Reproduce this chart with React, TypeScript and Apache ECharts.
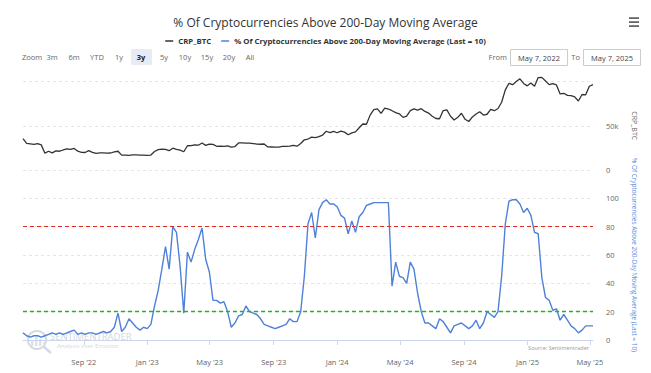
import React, { useEffect, useRef } from "react";
import * as echarts from "echarts";

const startDate = Date.UTC(2022, 4, 7);
const endDate = Date.UTC(2025, 4, 7);

// CRP_BTC weekly closes, in thousands
const btcValues = [
  35.5, 30, 29.5, 29, 29.8, 28.4, 19, 21.2, 19.3, 21.6, 21.2, 22.6, 23.8, 23.2, 24.4, 21.2, 20, 19.8, 21.8, 20,
  18.9, 19.3, 19.4, 19.1, 19.2, 20.6, 21.2, 16.8, 16.7, 16.5, 17, 17.1, 16.8, 16.8, 16.6,
  16.9, 20.9, 23, 23.7, 23.4, 21.8, 24.6, 23.2, 22.4, 20.6, 27.4, 27.5, 28.5, 28, 30.5, 27.8, 29.2, 28.9, 26.8, 26.9,
  26.8, 27.2, 25.8, 26.5, 30.6, 30.6, 30.3, 30.3, 29.9, 29.3, 29.1, 29.4, 26.1, 26, 25.9, 25.9, 26.6, 26.6, 27, 27.9,
  26.9, 29.9, 34.1, 35, 37.1, 36.6, 37.7, 39.5, 43.8, 42.3, 43.7, 42.1,
  44, 42.8, 39.8, 42, 43, 47.7, 52, 51.7, 62, 68.3, 69, 64, 69.9, 68.9, 67, 64.9, 63.5, 59.5, 60.8, 67,
  69, 67.7, 69.3, 66.2, 64.3, 60.8, 58.2, 57.9, 67.2, 68, 60.7, 56.5, 59.5, 64.1, 57.3, 54.8, 60, 63.3, 65.8, 62.1,
  63, 68.4, 67, 69.5, 76.6, 90.6, 98, 96.4, 99.9, 103, 97.8, 95.1,
  98.3, 94.6, 104.4, 104.7, 100.6, 96.5, 97.5, 96.1, 86, 86.7, 84.3, 84.1, 82.6, 78, 85.3, 85, 94.6, 96.5,
];

// % of cryptocurrencies above 200-day moving average, weekly
const pctValues = [
  5, 3, 2, 3, 3, 2, 3, 4, 5, 4,
  5, 4, 5, 6, 7, 4, 5, 4, 5, 5,
  4, 5, 6, 5, 6, 9, 19, 6, 9, 15,
  12, 9, 7, 9, 8, 11, 24, 35, 50, 66,
  50, 80, 76, 52, 19, 62, 55, 64, 71, 79,
  57, 48, 28, 28, 26, 27, 20, 9, 12, 17,
  18, 24, 20, 19, 18, 15, 11, 10, 9, 8,
  9, 10, 11, 15, 13, 13, 20, 45, 82, 90,
  72, 92, 97, 99, 96, 96, 94, 88, 86, 75,
  84, 76, 87, 90, 95, 96, 97, 97, 97, 97,
  97, 38, 55, 45, 44, 40, 55, 50, 33, 20,
  12, 12, 10, 8, 15, 13, 9, 5, 10, 11,
  12, 10, 8, 10, 14, 8, 12, 20, 18, 16,
  20, 45, 82, 98, 99, 99, 96, 90, 93, 88,
  76, 75, 44, 30, 28, 21, 22, 14, 18, 14,
  10, 8, 5, 7, 10, 10, 10,
];

const tickDates = [
  Date.UTC(2022, 8, 1), Date.UTC(2023, 0, 1), Date.UTC(2023, 4, 1), Date.UTC(2023, 8, 1),
  Date.UTC(2024, 0, 1), Date.UTC(2024, 4, 1), Date.UTC(2024, 8, 1), Date.UTC(2025, 0, 1), Date.UTC(2025, 4, 1),
];
const tickLabels = ["Sep '22", "Jan '23", "May '23", "Sep '23", "Jan '24", "May '24", "Sep '24", "Jan '25", "May '25"];

const zoomButtons = ["3m", "6m", "YTD", "1y", "3y", "5y", "10y", "15y", "20y", "All"];
const zoomX = [52, 74, 97, 119, 141, 164, 185, 207, 229, 250];
const thresholdHigh = 80;
const thresholdLow = 20;
const btcName = "CRP_BTC";
const pctName = "% Of Cryptocurrencies Above 200-Day Moving Average (Last = 10)";
const pctAxisName = "% Of Cryptocurrencies Above 200-Day Moving Average (Last = 10)";

const FONT = "'Open Sans', 'Noto Sans', sans-serif";

export default function App() {
  const ref = useRef<HTMLDivElement>(null);
  useEffect(() => {
    if (!ref.current) return;
    const chart = echarts.init(ref.current, undefined, { renderer: "svg" });
    const step = (endDate - startDate) / (btcValues.length - 1);
    const btcData = btcValues.map((v, i) => [startDate + i * step, v * 1000]);
    const pctData = pctValues.map((v, i) => [startDate + i * step, v]);
    const gridLine = { show: true, lineStyle: { color: "#e6e6e6", type: [3, 3] as any, width: 1 } };
    const labelStyle = { color: "#666", fontSize: 7.5, margin: 13, verticalAlign: "middle" as any, padding: [0, 0, 7, 0] };

    const graphics: any[] = [];
    graphics.push({ type: "text", x: 22, y: 57, style: { text: "Zoom", fill: "#666", fontSize: 7.5, fontFamily: FONT, verticalAlign: "middle" } });
    graphics.push({ type: "rect", shape: { x: 131, y: 49, width: 21, height: 16, r: 1 }, style: { fill: "#e6ebf5" } });
    zoomButtons.forEach((b, i) => {
      graphics.push({
        type: "text", x: zoomX[i], y: 57,
        style: { text: b, fill: b === "3y" ? "#222" : "#666", fontSize: 7.5, fontWeight: b === "3y" ? "bold" : "normal", fontFamily: FONT, align: "center", verticalAlign: "middle" },
      });
    });
    graphics.push({ type: "text", x: 507, y: 57, style: { text: "From", fill: "#666", fontSize: 7.5, fontFamily: FONT, align: "right", verticalAlign: "middle" } });
    graphics.push({ type: "rect", shape: { x: 510.5, y: 49.5, width: 57, height: 16 }, style: { fill: "#fff", stroke: "#cccccc", lineWidth: 1 } });
    graphics.push({ type: "text", x: 539, y: 57.5, style: { text: "May 7, 2022", fill: "#444", fontSize: 7.5, fontFamily: FONT, align: "center", verticalAlign: "middle" } });
    graphics.push({ type: "text", x: 580, y: 57, style: { text: "To", fill: "#666", fontSize: 7.5, fontFamily: FONT, align: "right", verticalAlign: "middle" } });
    graphics.push({ type: "rect", shape: { x: 583.5, y: 49.5, width: 57, height: 16 }, style: { fill: "#fff", stroke: "#cccccc", lineWidth: 1 } });
    graphics.push({ type: "text", x: 612, y: 57.5, style: { text: "May 7, 2025", fill: "#444", fontSize: 7.5, fontFamily: FONT, align: "center", verticalAlign: "middle" } });
    [18, 22, 26].forEach((yy) => {
      graphics.push({ type: "rect", shape: { x: 629, y: yy - 0.8, width: 10, height: 1.8 }, style: { fill: "#666" } });
    });
    graphics.push({ type: "circle", shape: { cx: 37, cy: 340, r: 9 }, style: { fill: "none", stroke: "#d4dae3", lineWidth: 2 } });
    [[31, 340, 6], [35, 337, 9], [39, 339, 7], [43, 342, 4]].forEach(([bx, by, bh]) => {
      graphics.push({ type: "rect", shape: { x: bx, y: by, width: 2.5, height: bh }, style: { fill: "#dde2ea" } });
    });
    graphics.push({ type: "line", shape: { x1: 43.5, y1: 346.5, x2: 51, y2: 353 }, style: { stroke: "#d4dae3", lineWidth: 2.5 } });
    graphics.push({ type: "text", x: 50, y: 336, style: { text: "SENTIMENTRADER", fill: "#d3d9e2", fontSize: 9.5, fontFamily: FONT, verticalAlign: "middle" } });
    graphics.push({ type: "text", x: 57, y: 346, style: { text: "Analysis over Emotion", fill: "#d3d9e2", fontSize: 6, fontFamily: FONT, verticalAlign: "middle" } });
    graphics.push({ type: "text", x: 589, y: 348, style: { text: "Source: Sentimentrader", fill: "#999", fontSize: 5.5, fontFamily: FONT, align: "right", verticalAlign: "middle" } });

    chart.setOption({
      animation: false,
      backgroundColor: "#ffffff",
      textStyle: { fontFamily: FONT },
      title: {
        text: "% Of Cryptocurrencies Above 200-Day Moving Average",
        left: "center",
        top: 11,
        textStyle: { fontSize: 12, fontWeight: "normal", color: "#333", fontFamily: FONT },
      },
      legend: {
        top: 32,
        left: "center",
        icon: "rect",
        itemWidth: 8,
        itemHeight: 1.5,
        itemGap: 10,
        textStyle: { fontSize: 7.8, fontWeight: "bold", color: "#333", fontFamily: FONT },
        data: [btcName, pctName],
      },
      grid: [
        { left: 23, right: 58, top: 81.5, height: 88.5 },
        { left: 23, right: 58, top: 170, height: 170 },
      ],
      xAxis: [
        { type: "value", gridIndex: 0, min: startDate, max: endDate, show: false },
        {
          type: "value",
          gridIndex: 1,
          min: startDate,
          max: endDate,
          offset: 14,
          axisLine: { show: true, lineStyle: { color: "#ccd6eb", width: 1 } },
          axisTick: { show: true, customValues: tickDates, length: 5, lineStyle: { color: "#ccd6eb" } },
          axisLabel: {
            customValues: tickDates,
            formatter: (v: number) => {
              const idx = tickDates.indexOf(v);
              return idx >= 0 ? tickLabels[idx] : "";
            },
            color: "#666",
            fontSize: 7.5,
            margin: 4,
          },
          splitLine: { show: false },
        },
      ],
      yAxis: [
        {
          type: "value",
          gridIndex: 0,
          position: "right",
          min: 0,
          max: 100000,
          interval: 50000,
          axisLine: { show: false },
          axisTick: { show: false },
          axisLabel: { ...labelStyle, showMaxLabel: false, formatter: (v: number) => (v === 0 ? "0" : v / 1000 + "k") },
          splitLine: gridLine,
          name: btcName,
          nameLocation: "middle",
          nameRotate: -90,
          nameGap: 38,
          nameTextStyle: { color: "#666", fontSize: 7, fontFamily: FONT },
        },
        {
          type: "value",
          gridIndex: 1,
          position: "right",
          min: 0,
          max: 120,
          interval: 20,
          axisLine: { show: false },
          axisTick: { show: false },
          axisLabel: { ...labelStyle, showMaxLabel: false },
          splitLine: gridLine,
          name: pctAxisName,
          nameLocation: "middle",
          nameRotate: -90,
          nameGap: 38,
          nameTextStyle: { color: "#5b8ae0", fontSize: 6.4, fontFamily: FONT },
        },
      ],
      series: [
        {
          name: btcName,
          type: "line",
          xAxisIndex: 0,
          yAxisIndex: 0,
          data: btcData,
          showSymbol: false,
          clip: false,
          color: "#333333",
          lineStyle: { color: "#333333", width: 1.3 },
        },
        {
          name: "threshold-low",
          type: "line",
          xAxisIndex: 1,
          yAxisIndex: 1,
          data: [],
          markLine: {
            silent: true,
            symbol: ["none", "none"],
            label: { show: false },
            lineStyle: { color: "#22b422", type: [4, 3], width: 1.3 },
            data: [{ yAxis: thresholdLow }],
          },
        },
        {
          name: "threshold-high",
          type: "line",
          xAxisIndex: 1,
          yAxisIndex: 1,
          data: [],
          markLine: {
            silent: true,
            symbol: ["none", "none"],
            label: { show: false },
            lineStyle: { color: "#d9302a", type: [4, 3], width: 1 },
            data: [{ yAxis: thresholdHigh }],
          },
        },
        {
          name: pctName,
          type: "line",
          xAxisIndex: 1,
          yAxisIndex: 1,
          data: pctData,
          showSymbol: false,
          color: "#4f81d9",
          lineStyle: { color: "#4f81d9", width: 1.4 },
        },
      ],
      graphic: graphics,
    });
    return () => chart.dispose();
  }, []);
  return <div ref={ref} style={{ position: "fixed", left: 0, top: 0, width: 651, height: 373 }} />;
}
